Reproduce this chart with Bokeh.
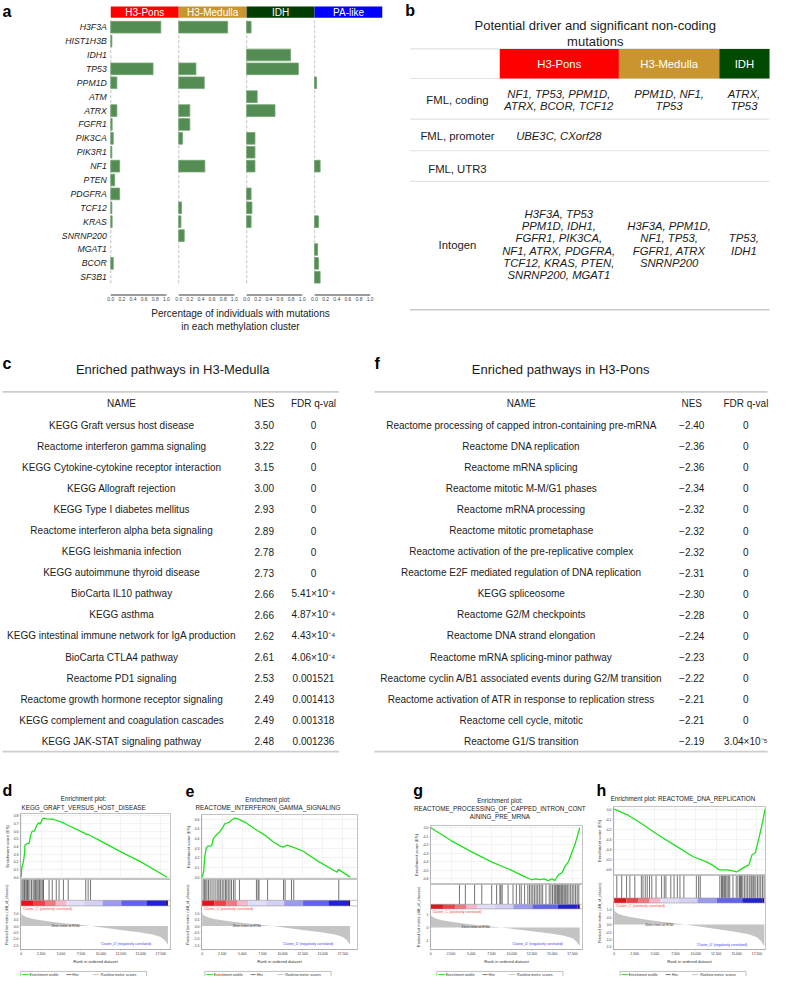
from bokeh.plotting import figure
from bokeh.layouts import row, column
from bokeh.models import Range1d, FixedTicker, LinearAxis, Span, Grid, NumeralTickFormatter
from bokeh.core.properties import value
from bokeh.embed import file_html
from bokeh.resources import INLINE

FONT = "Liberation Sans"
INK = "#1c1c1c"

# ===================== panel a data =====================
genes = ["H3F3A", "HIST1H3B", "IDH1", "TP53", "PPM1D", "ATM", "ATRX", "FGFR1", "PIK3CA",
         "PIK3R1", "NF1", "PTEN", "PDGFRA", "TCF12", "KRAS", "SNRNP200", "MGAT1", "BCOR", "SF3B1"]
a_clusters = ["H3-Pons", "H3-Medulla", "IDH", "PA-like"]
a_cluster_colors = ["#ff0000", "#c8952f", "#013c01", "#0000ff"]
frac_h3_pons = [0.90, 0.02, 0.0, 0.76, 0.11, 0.0, 0.11, 0.025, 0.045, 0.02, 0.16, 0.07, 0.16,
                0.02, 0.025, 0.0, 0.0, 0.045, 0.0]
frac_h3_medulla = [0.88, 0.0, 0.0, 0.31, 0.46, 0.0, 0.20, 0.20, 0.07, 0.0, 0.47, 0.0, 0.0,
                   0.05, 0.04, 0.10, 0.0, 0.0, 0.0]
frac_idh = [0.08, 0.0, 0.79, 0.93, 0.0, 0.19, 0.51, 0.0, 0.15, 0.15, 0.15, 0.0, 0.08,
            0.095, 0.08, 0.0, 0.0, 0.0, 0.0]
frac_pa_like = [0.0, 0.0, 0.0, 0.0, 0.035, 0.0, 0.0, 0.0, 0.0, 0.0, 0.10, 0.0, 0.0,
                0.0, 0.07, 0.0, 0.055, 0.07, 0.10]
a_tick_values = [0.0, 0.2, 0.4, 0.6, 0.8, 1.0]
a_axis_label = "Percentage of individuals with mutations\nin each methylation cluster"

# ===================== panel b data =====================
b_title = ["Potential driver and significant non-coding", "mutations"]
b_groups = ["H3-Pons", "H3-Medulla", "IDH"]
b_group_colors = ["#ff0000", "#c8952f", "#014a01"]
b_row_labels = ["FML, coding", "FML, promoter", "FML, UTR3", "Intogen"]
b_pons = [["NF1, TP53, PPM1D,", "ATRX, BCOR, TCF12"], ["UBE3C, CXorf28"], [],
          ["H3F3A, TP53", "PPM1D, IDH1,", "FGFR1, PIK3CA,", "NF1, ATRX, PDGFRA,",
           "TCF12, KRAS, PTEN,", "SNRNP200, MGAT1"]]
b_medulla = [["PPM1D, NF1,", "TP53"], [], [],
             ["H3F3A, PPM1D,", "NF1, TP53,", "FGFR1, ATRX", "SNRNP200"]]
b_idh = [["ATRX,", "TP53"], [], [], ["TP53,", "IDH1"]]

# ===================== panel c / f data =====================
table_header = ["NAME", "NES", "FDR q-val"]
c_title = "Enriched pathways in H3-Medulla"
c_names = ["KEGG Graft versus host disease", "Reactome interferon gamma signaling",
           "KEGG Cytokine-cytokine receptor interaction", "KEGG Allograft rejection",
           "KEGG Type I diabetes mellitus", "Reactome interferon alpha beta signaling",
           "KEGG leishmania infection", "KEGG autoimmune thyroid disease",
           "BioCarta IL10 pathway", "KEGG asthma",
           "KEGG intestinal immune network for IgA production", "BioCarta CTLA4 pathway",
           "Reactome PD1 signaling", "Reactome growth hormone receptor signaling",
           "KEGG complement and coagulation cascades", "KEGG JAK-STAT signaling pathway"]
c_nes = [3.50, 3.22, 3.15, 3.00, 2.93, 2.89, 2.78, 2.73, 2.66, 2.66, 2.62, 2.61, 2.53, 2.49, 2.49, 2.48]
c_fdr = ["0", "0", "0", "0", "0", "0", "0", "0", "5.41×10⁻⁴", "4.87×10⁻⁴", "4.43×10⁻⁴",
         "4.06×10⁻⁴", "0.001521", "0.001413", "0.001318", "0.001236"]
f_title = "Enriched pathways in H3-Pons"
f_names = ["Reactome processing of capped intron-containing pre-mRNA", "Reactome DNA replication",
           "Reactome mRNA splicing", "Reactome mitotic M-M/G1 phases", "Reactome mRNA processing",
           "Reactome mitotic prometaphase", "Reactome activation of the pre-replicative complex",
           "Reactome E2F mediated regulation of DNA replication", "KEGG spliceosome",
           "Reactome G2/M checkpoints", "Reactome DNA strand elongation",
           "Reactome mRNA splicing-minor pathway",
           "Reactome cyclin A/B1 associated events during G2/M transition",
           "Reactome activation of ATR in response to replication stress",
           "Reactome cell cycle, mitotic", "Reactome G1/S transition"]
f_nes = [-2.40, -2.36, -2.36, -2.34, -2.32, -2.32, -2.32, -2.31, -2.30, -2.28, -2.24, -2.23,
         -2.22, -2.21, -2.21, -2.19]
f_fdr = ["0"] * 15 + ["3.04×10⁻⁵"]

# ===================== GSEA data =====================
rank_ticks = [0, 2500, 5000, 7500, 10000, 12500, 15000, 17500]
rank_metric_x = [0, 100, 300, 700, 1500, 2500, 4000, 6000, 8740, 10000, 12500, 15000, 16500,
                 17500, 18000, 18400]
rank_metric_y = [1.05, 0.9, 0.8, 0.68, 0.55, 0.45, 0.32, 0.17, 0.0, -0.1, -0.3, -0.5, -0.65,
                 -0.85, -1.1, -1.45]
colorbar_edges = [0, 1500, 3000, 4350, 5700, 7900, 10200, 12550, 15700, 18150, 18400]
colorbar_colors = ["#e3141c", "#ee4248", "#f3777e", "#f8b6cb", "#e2def7", "#d3d0f3",
                   "#9c9af1", "#6262f0", "#2222d2", "#2e0a7a"]
zero_cross_text = "Zero cross at 8740"

d_title = ["Enrichment plot:", "KEGG_GRAFT_VERSUS_HOST_DISEASE"]
d_es_rank = [0, 80, 280, 400, 480, 800, 1000, 1190, 1390, 1650, 1790, 1980, 2180, 2380, 2580,
             2780, 3200, 3970, 5000, 6000, 7000, 8000, 8200, 8400, 8700, 10000, 12500, 15000, 18300]
d_es_value = [0.0, 0.12, 0.2, 0.29, 0.42, 0.44, 0.44, 0.55, 0.6, 0.6, 0.63, 0.68, 0.71, 0.69,
              0.74, 0.77, 0.76, 0.755, 0.72, 0.67, 0.62, 0.57, 0.555, 0.56, 0.54, 0.47, 0.33,
              0.2, 0.0]
d_hits = [100, 250, 400, 500, 650, 800, 900, 1100, 1300, 1500, 1650, 1800, 1950, 2100, 2250,
          2350, 2500, 2700, 2800, 3500, 3900, 4400, 4750, 5300, 5900, 8100, 8400, 8700]

e_title = ["Enrichment plot:", "REACTOME_INTERFERON_GAMMA_SIGNALING"]
e_es_rank = [0, 200, 300, 500, 700, 1000, 1200, 1400, 1800, 2200, 2600, 2800, 3100, 3400, 3800,
             4100, 4500, 5300, 6500, 7700, 8900, 9700, 10100, 10500, 11300, 12500, 14500, 16800,
             16950, 18400]
e_es_value = [0.0, 0.06, 0.2, 0.3, 0.32, 0.32, 0.33, 0.4, 0.44, 0.47, 0.52, 0.55, 0.56, 0.57,
              0.6, 0.61, 0.6, 0.57, 0.5, 0.44, 0.36, 0.32, 0.31, 0.33, 0.31, 0.27, 0.16, 0.05,
              0.08, 0.0]
e_hits = [120, 280, 440, 600, 790, 990, 1230, 1470, 1710, 1950, 2100, 2300, 2500, 2700, 2900,
          3060, 3250, 3450, 3650, 3890, 4090, 4640, 6750, 6950, 7070, 8140, 10120, 10320, 11110,
          11390, 16990]

g_title = ["Enrichment plot:", "REACTOME_PROCESSING_OF_CAPPED_INTRON_CONT", "AINING_PRE_MRNA"]
g_es_rank = [0, 2500, 5000, 7500, 10000, 11500, 12500, 13000, 13500, 14000, 14500, 15000, 15300,
             15800, 16200, 16600, 17000, 17400, 17800, 18100, 18400]
g_es_value = [0.0, -0.15, -0.28, -0.4, -0.5, -0.57, -0.61, -0.6, -0.61, -0.6, -0.62, -0.6,
              -0.62, -0.55, -0.53, -0.45, -0.4, -0.3, -0.2, -0.1, 0.0]
g_hits = [3540, 4270, 5410, 6300, 7520, 8130, 8540, 8660, 8820, 9550, 10160, 10570, 10980, 11180,
          11590, 11990, 12200, 12400, 12600, 12800, 13010, 13210, 13410, 13620, 13820, 14230,
          14630, 14840, 15040, 15240, 15370, 15490, 15650, 15770, 15890, 16060, 16180, 16300,
          16460, 16590, 16710, 16870, 17070, 17280, 17480, 17680, 17890, 18090, 18290]

h_title = ["Enrichment plot: REACTOME_DNA_REPLICATION"]
h_es_rank = [0, 1700, 3300, 5300, 7300, 9700, 11300, 12000, 12900, 13800, 14500, 15000, 15800,
             16500, 16900, 17300, 17700, 18100, 18500]
h_es_value = [0.0, -0.06, -0.14, -0.25, -0.35, -0.47, -0.52, -0.55, -0.6, -0.6, -0.61, -0.62,
              -0.58, -0.55, -0.45, -0.43, -0.3, -0.16, 0.0]
h_hits = [320, 920, 1520, 1920, 2530, 3330, 3530, 3810, 4050, 4330, 4610, 5130, 5810, 6140,
          6340, 6940, 7340, 7740, 8060, 8540, 10070, 10350, 10550, 12950, 13150, 13270, 13430,
          13550, 13670, 13830, 13990, 14160, 14560, 14960, 15160, 15360, 15480, 15600, 15760,
          15960, 16160, 16360, 16560, 16760, 16880, 17040, 17160, 17360, 17560, 17760, 17960,
          18170, 18370]

legend_items = ["Enrichment profile", "Hits", "Ranking metric scores"]

# ===================== geometry helpers =====================
W_TOTAL, H_TOTAL = 771, 976
RX0, RX1, RY0, RY1 = 1.0, 784.0, 2.0, 990.0


def X(rx):
    return int(round((rx - RX0) * W_TOTAL / (RX1 - RX0)))


def Y(ry):
    return int(round((ry - RY0) * H_TOTAL / (RY1 - RY0)))


def mk(rx0, rx1, ry0, ry1, **kw):
    p = figure(width=X(rx1) - X(rx0), height=Y(ry1) - Y(ry0), output_backend="svg",
               toolbar_location=None, **kw)
    p.outline_line_color = None
    p.background_fill_color = "white"
    p.border_fill_color = "white"
    return p


def text_fig(rx0, rx1, ry0, ry1):
    return mk(rx0, rx1, ry0, ry1, x_range=Range1d(rx0, rx1), y_range=Range1d(ry1, ry0),
              x_axis_type=None, y_axis_type=None, min_border_left=0, min_border_right=0,
              min_border_top=0, min_border_bottom=0)


def txts(p, xs, ys, texts, size, align="center", baseline="middle", style="normal",
         color=INK, **kw):
    p.text(x=list(xs), y=list(ys), text=list(texts), text_font=value(FONT),
           text_font_size=f"{size}px", text_align=align, text_baseline=baseline,
           text_font_style=style, text_color=color, **kw)


# ===================== panel a =====================
A_FX0, A_FX1 = 113.0, 389.0
UNIT, SLOT, ROW0, PITCH = 56.5, 69.0, 29.0, 14.06
ROW1_BOTTOM = 342.0


def ax(rx):
    return (rx - A_FX0) / UNIT


def ay(ry):
    return (ry - ROW0) / PITCH


pa = mk(1, 395, 2, ROW1_BOTTOM, x_range=Range1d(ax(1), ax(A_FX1)),
        y_range=Range1d(ay(ROW1_BOTTOM), ay(2)),
        min_border_left=0, min_border_right=X(395) - X(A_FX1),
        min_border_top=0, min_border_bottom=0)
pa.grid.visible = False
idx = list(range(len(genes)))
BAR_FILL, BAR_EDGE = "#548d54", "#74a474"
a_series = [frac_h3_pons, frac_h3_medulla, frac_idh, frac_pa_like]
a_ticks, a_tick_labels = [], {}
for k, (vals, col, name) in enumerate(zip(a_series, a_cluster_colors, a_clusters)):
    off = k * SLOT / UNIT
    pa.segment(x0=[off], x1=[off], y0=[ay(22)], y1=[ay(289)], line_color="#cfcfcf",
               line_width=1.3, line_dash="3 2")
    ys = [i for i, v in enumerate(vals) if v > 0]
    pa.hbar(y=ys, left=[off] * len(ys), right=[off + vals[i] for i in ys], height=0.84,
            fill_color=BAR_FILL, line_color=BAR_EDGE, line_width=0.8)
    pa.quad(left=[off], right=[off + SLOT / UNIT], top=[ay(8)], bottom=[ay(19.5)],
            fill_color=col, line_color=None)
    txts(pa, [off + SLOT / UNIT / 2], [ay(14.0)], [name], 10, color="white")
    pa.segment(x0=[off], x1=[off + 1.0], y0=[ay(300)], y1=[ay(300)], line_color="#9c9c9c",
               line_width=1.8)
    for t in a_tick_values:
        v = round(off + t, 6)
        a_ticks.append(v)
        a_tick_labels[v] = f"{t:.1f}"

xa = pa.xaxis[0]
xa.fixed_location = ay(300.5)
xa.bounds = (ax(101), ax(A_FX1))
xa.ticker = FixedTicker(ticks=a_ticks)
xa.major_label_overrides = a_tick_labels
xa.axis_line_color = None
xa.major_tick_line_color = None
xa.minor_tick_line_color = None
xa.major_tick_out = 0
xa.major_tick_in = 0
xa.major_label_text_font = FONT
xa.major_label_text_font_size = "5px"
xa.major_label_text_color = "#444"
xa.major_label_standoff = 2
xa.axis_label = a_axis_label
xa.axis_label_text_font = FONT
xa.axis_label_text_font_size = "10px"
xa.axis_label_text_font_style = "normal"
xa.axis_label_text_color = INK
xa.axis_label_standoff = 3

ya = pa.yaxis[0]
ya.fixed_location = ax(A_FX0)
ya.ticker = FixedTicker(ticks=idx)
ya.major_label_overrides = {i: g for i, g in enumerate(genes)}
ya.axis_line_color = None
ya.major_tick_line_color = None
ya.minor_tick_line_color = None
ya.major_tick_out = 0
ya.major_tick_in = 0
ya.major_label_standoff = 4
ya.major_label_text_font = FONT
ya.major_label_text_font_size = "8.7px"
ya.major_label_text_font_style = "italic"
ya.major_label_text_color = INK

txts(pa, [ax(3)], [ay(12.7)], ["a"], 16, align="left", baseline="alphabetic", style="bold",
     color="black")

# ===================== panel b =====================
pbt = text_fig(395, 784, 2, ROW1_BOTTOM)
txts(pbt, [412], [11.7], ["b"], 16, align="left", baseline="alphabetic", style="bold",
     color="black")
txts(pbt, [605, 605], [27.3, 43.3], b_title, 13, baseline="alphabetic")
B_LEFT, B_COLS = 417, [508, 629, 731, 782]
for yy in [51, 81, 122, 154, 185]:
    pbt.segment(x0=[B_LEFT], x1=[B_COLS[-1]], y0=[yy], y1=[yy], line_color="#e2e2e2",
                line_width=1.1)
pbt.segment(x0=[B_LEFT], x1=[B_COLS[-1]], y0=[315], y1=[315], line_color="#c9c9c9",
            line_width=1.6)
pbt.quad(left=B_COLS[:-1], right=B_COLS[1:], top=[51] * 3, bottom=[81] * 3,
         fill_color=b_group_colors, line_color=None)
txts(pbt, [(B_COLS[k] + B_COLS[k + 1]) / 2 for k in range(3)], [66] * 3, b_groups, 11.3,
     color="white")
B_ROWY, B_LBL_X, B_COL_X, B_LINE = [103, 139, 173, 249], 465, [568, 680, 756], 12.5
txts(pbt, [B_LBL_X] * 4, B_ROWY, b_row_labels, 11.3)
cx_, cy_, ct_ = [], [], []
for c, cells in enumerate([b_pons, b_medulla, b_idh]):
    for r, lines in enumerate(cells):
        n = len(lines)
        for j, s in enumerate(lines):
            cx_.append(B_COL_X[c])
            cy_.append(B_ROWY[r] + (j - (n - 1) / 2) * B_LINE)
            ct_.append(s)
txts(pbt, cx_, cy_, ct_, 11.3, style="italic")


# ===================== panels c and f =====================
def pathway_table(rx0, rx1, letter, lx, title, tcx, xs, names, nes, fdr, lx0, lx1):
    p = text_fig(rx0, rx1, ROW1_BOTTOM, 770)
    txts(p, [lx], [369.3], [letter], 16, align="left", baseline="alphabetic", style="bold",
         color="black")
    txts(p, [tcx], [375], [title], 13, baseline="alphabetic")
    p.segment(x0=[lx0, lx0], x1=[lx1, lx1], y0=[398, 762], y1=[398, 762], line_color="#cdcdcd",
              line_width=1.6)
    txts(p, xs, [410] * 3, table_header, 10)
    rys = [431.7 + 21.33 * i for i in range(len(names))]
    txts(p, [xs[0]] * len(names), rys, names, 10)
    txts(p, [xs[1]] * len(names), rys, nes, 10)
    txts(p, [xs[2]] * len(names), rys, fdr, 10)
    return p


c_nes_txt = [f"{v:.2f}" for v in c_nes]
f_nes_txt = [("\u2212" if v < 0 else "") + f"{abs(v):.2f}" for v in f_nes]
pc = pathway_table(1, 378, "c", 3, c_title, 176, [124, 269, 319], c_names, c_nes_txt, c_fdr, 3, 345)
pf = pathway_table(378, 784, "f", 381, f_title, 570, [530, 703, 758], f_names, f_nes_txt, f_fdr,
                   381, 780)

# ===================== GSEA panels =====================
ES_GREEN, FRAME_C, GRID_C, AREA_C = "#1fe01f", "#9a9a9a", "#e6e6e6", "#c4c4c4"
PR_BOTTOM = 979.5


def style_small_axis(a, lab_size=4.2, tick=3.4):
    a.axis_label_text_font = FONT
    a.axis_label_text_font_size = f"{lab_size}px"
    a.axis_label_text_font_style = "normal"
    a.axis_label_text_color = "#333"
    a.axis_label_standoff = 1
    a.major_label_text_font = FONT
    a.major_label_text_font_size = f"{tick}px"
    a.major_label_text_color = "#333"
    a.major_label_standoff = 1
    a.axis_line_color = FRAME_C
    a.axis_line_width = 0.5
    a.major_tick_line_color = FRAME_C
    a.major_tick_line_width = 0.5
    a.major_tick_out = 1
    a.major_tick_in = 0
    a.minor_tick_line_color = None


def gsea(box, frame, ys, xr, es_rng, es_ticks, rk_rng, rk_ticks, rk_fmt, letter, letter_x,
         tcx, titles, title_ys, es_x, es_y, hits):
    bx0, bx1 = box
    fx0, fx1 = frame
    es_top, es_bot, hits_bot, cb_bot, rk_bot = ys
    head_bot = es_top - 1.0
    mbl, mbr = X(fx0) - X(bx0), X(bx1) - X(fx1)

    ph = text_fig(bx0, bx1, 770, head_bot)
    txts(ph, [letter_x], [801.7], [letter], 16, align="left", baseline="alphabetic",
         style="bold", color="black")
    txts(ph, [tcx] * len(titles), title_ys, titles, 6.3)

    xrange = Range1d(*xr)
    pe = mk(bx0, bx1, head_bot, es_bot, x_range=xrange, y_range=Range1d(*es_rng),
            x_axis_type=None, y_axis_type=None, min_border_left=mbl, min_border_right=mbr,
            min_border_top=Y(es_top) - Y(head_bot), min_border_bottom=0)
    pe.outline_line_color = FRAME_C
    pe.outline_line_width = 0.6
    pe.add_layout(Grid(dimension=0, ticker=FixedTicker(ticks=rank_ticks), grid_line_color=GRID_C,
                       grid_line_width=0.5))
    pe.add_layout(Grid(dimension=1, ticker=FixedTicker(ticks=es_ticks), grid_line_color=GRID_C,
                       grid_line_width=0.5))
    yax = LinearAxis(ticker=FixedTicker(ticks=es_ticks), formatter=NumeralTickFormatter(format="0.0"),
                     axis_label="Enrichment score (ES)")
    style_small_axis(yax)
    pe.add_layout(yax, "left")
    pe.line(es_x, es_y, line_color=ES_GREEN, line_width=1.3)

    rk_lo, rk_hi = rk_rng
    per = (rk_hi - rk_lo) / (rk_bot - cb_bot)
    top_val = rk_hi + (cb_bot - es_bot) * per
    pr = mk(bx0, bx1, es_bot, PR_BOTTOM, x_range=xrange, y_range=Range1d(rk_lo, top_val),
            x_axis_type=None, y_axis_type=None, min_border_left=mbl, min_border_right=mbr,
            min_border_top=0, min_border_bottom=Y(PR_BOTTOM) - Y(rk_bot))
    pr.extra_y_ranges = {"band": Range1d(rk_bot, es_bot)}
    pr.outline_line_color = FRAME_C
    pr.outline_line_width = 0.6
    pr.varea(x=rank_metric_x, y1=0, y2=rank_metric_y, fill_color=AREA_C)
    pr.segment(x0=hits, x1=hits, y0=es_bot, y1=hits_bot, y_range_name="band",
               line_color="#161616", line_width=0.6)
    pr.quad(left=colorbar_edges[:-1], right=colorbar_edges[1:], top=hits_bot, bottom=cb_bot,
            fill_color=colorbar_colors, line_color=None, y_range_name="band")
    for yy in (hits_bot, cb_bot):
        pr.add_layout(Span(location=yy, dimension="width", y_range_name="band",
                           line_color=FRAME_C, line_width=0.6))
    txts(pr, [3800], [0], [zero_cross_text], 3.4, align="left", color="#333")
    txts(pr, [150], [cb_bot + 2.8], ["'Cluster_C' (positively correlated)"], 3.4, align="left",
         color="#ff3b3b", y_range_name="band")
    txts(pr, [16300], [961], ["'Cluster_D' (negatively correlated)"], 3.4, align="right",
         color="#3b3bff", y_range_name="band")
    la = LinearAxis(ticker=FixedTicker(ticks=rk_ticks), formatter=NumeralTickFormatter(format=rk_fmt),
                    axis_label="Ranked list metric (diff_of_classes)", bounds=(rk_lo, rk_hi))
    style_small_axis(la, lab_size=3.9)
    pr.add_layout(la, "left")
    ba = LinearAxis(ticker=FixedTicker(ticks=rank_ticks), formatter=NumeralTickFormatter(format="0,0"),
                    axis_label="Rank in ordered dataset")
    style_small_axis(ba)
    pr.add_layout(ba, "below")

    pl = text_fig(bx0, bx1, PR_BOTTOM, 990)
    pl.quad(left=[tcx - 64], right=[tcx + 64], top=[982.6], bottom=[989.2], fill_color=None,
            line_color="#999999", line_width=0.6)
    pl.segment(x0=[tcx - 62.5, tcx - 17.5, tcx + 9.2], x1=[tcx - 55.8, tcx - 12.5, tcx + 15.8],
               y0=[985.9] * 3, y1=[985.9] * 3, line_color=[ES_GREEN, "#777777", "#c8c8c8"],
               line_width=1.0)
    txts(pl, [tcx - 55.0, tcx - 11.5, tcx + 17.5], [985.9] * 3, legend_items, 3.6,
         align="left", color="#333")
    return column(ph, column(pe, pr), pl)


es_ticks_pos_d = [0.0, 0.1, 0.2, 0.3, 0.4, 0.5, 0.6, 0.7, 0.8]
es_ticks_pos_e = [0.0, 0.1, 0.2, 0.3, 0.4, 0.5, 0.6]
es_ticks_neg = [0.0, -0.1, -0.2, -0.3, -0.4, -0.5, -0.6]
rk_ticks_half = [1.0, 0.5, 0.0, -0.5, -1.0, -1.5]
rk_ticks_unit = [1, 0, -1]

gd = gsea((1, 185), (16, 174), (825, 891.7, 914, 920, 966.7), (-83, 18726), (-0.03, 0.83),
          es_ticks_pos_d, (-1.818, 1.556), rk_ticks_half, "0.0", "d", 3, 85.5, d_title,
          [810, 819], d_es_rank, d_es_value, d_hits)
ge = gsea((185, 400), (201, 364), (826, 891.7, 914, 920, 966.7), (-83, 19321), (-0.025, 0.648),
          es_ticks_pos_e, (-1.818, 1.556), rk_ticks_half, "0.0", "e", 189, 272.7, e_title,
          [811, 819], e_es_rank, e_es_value, e_hits)
gg = gsea((400, 600), (438, 592), (836.7, 896.7, 918, 923, 966.7), (-37, 18744), (-0.666, 0.027),
          es_ticks_neg, (-1.73, 1.46), rk_ticks_unit, "0", "g", 420, 508, g_title,
          [811, 819.3, 827.6], g_es_rank, g_es_value, g_hits)
gh = gsea((600, 784), (623.3, 778.3), (818, 888, 911.7, 917, 966), (-84, 18546), (-0.655, 0.026),
          es_ticks_neg, (-1.67, 1.445), rk_ticks_half, "0.0", "h", 606, 694, h_title,
          [810], h_es_rank, h_es_value, h_hits)

layout = column(row(pa, pbt), row(pc, pf), row(gd, ge, gg, gh))
open("out.html", "w").write(file_html(layout, INLINE))
